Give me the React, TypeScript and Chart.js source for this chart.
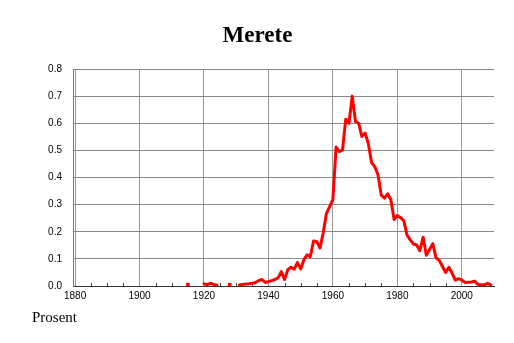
import React, { useEffect, useRef } from "react";
import { Chart, registerables } from "chart.js";

Chart.register(...registerables);

const TITLE = "Merete";
const Y_LABEL = "Prosent";

const years: number[] = [
  1915, 1916, 1917, 1918, 1919,
  1920, 1921, 1922, 1923, 1924, 1925, 1926, 1927, 1928, 1929,
  1930, 1931, 1932, 1933, 1934, 1935, 1936, 1937, 1938, 1939,
  1940, 1941, 1942, 1943, 1944, 1945, 1946, 1947, 1948, 1949,
  1950, 1951, 1952, 1953, 1954, 1955, 1956, 1957, 1958, 1959,
  1960, 1961, 1962, 1963, 1964, 1965, 1966, 1967, 1968, 1969,
  1970, 1971, 1972, 1973, 1974, 1975, 1976, 1977, 1978, 1979,
  1980, 1981, 1982, 1983, 1984, 1985, 1986, 1987, 1988, 1989,
  1990, 1991, 1992, 1993, 1994, 1995, 1996, 1997, 1998, 1999,
  2000, 2001, 2002, 2003, 2004, 2005, 2006, 2007, 2008, 2009,
];

const values: (number | null)[] = [
  0.005, null, null, null, null,
  0.008, 0.005, 0.010, 0.006, 0.003, null, null, null, 0.005, null,
  null, 0.004, 0.006, 0.007, 0.008, 0.010, 0.013, 0.020, 0.024, 0.013,
  0.016, 0.020, 0.024, 0.030, 0.053, 0.024, 0.060, 0.069, 0.062, 0.086,
  0.063, 0.097, 0.115, 0.108, 0.166, 0.164, 0.140, 0.195, 0.268, 0.293,
  0.318, 0.512, 0.495, 0.502, 0.615, 0.600, 0.700, 0.607, 0.600, 0.551,
  0.564, 0.525, 0.455, 0.440, 0.410, 0.335, 0.324, 0.340, 0.318, 0.245,
  0.260, 0.252, 0.241, 0.188, 0.170, 0.155, 0.151, 0.130, 0.180, 0.113,
  0.135, 0.156, 0.104, 0.095, 0.072, 0.050, 0.069, 0.047, 0.022, 0.027,
  0.022, 0.013, 0.014, 0.015, 0.018, 0.006, 0.005, 0.004, 0.010, 0.004,
];

const xTickYears: number[] = [1880, 1900, 1920, 1940, 1960, 1980, 2000];
const minorTickYears: number[] = [
  1885, 1890, 1895, 1905, 1910, 1915, 1925, 1930, 1935, 1945, 1950, 1955,
  1965, 1970, 1975, 1985, 1990, 1995, 2005,
];
const yTicks: number[] = [0, 0.1, 0.2, 0.3, 0.4, 0.5, 0.6, 0.7, 0.8];

const SANS = "'Liberation Sans', Arial, Helvetica, sans-serif";
const SERIF = "'Liberation Serif', 'Times New Roman', serif";

export default function App() {
  const ref = useRef<HTMLCanvasElement | null>(null);

  useEffect(() => {
    const canvas = ref.current;
    if (!canvas) return;

    const textPlugin = {
      id: "texts",
      beforeDatasetsDraw(chart: any) {
        const ctx = chart.ctx;
        const xs = chart.scales.x;
        const bottom = chart.chartArea.bottom;
        ctx.save();
        ctx.strokeStyle = "#444";
        ctx.lineWidth = 1;
        ctx.beginPath();
        for (const v of minorTickYears) {
          const px = Math.round(xs.getPixelForValue(v)) + 0.5;
          ctx.moveTo(px, bottom);
          ctx.lineTo(px, bottom - 3);
        }
        ctx.stroke();
        ctx.restore();
      },
      afterDraw(chart: any) {
        const ctx = chart.ctx;
        ctx.save();
        ctx.fillStyle = "#000";
        ctx.font = `bold 23px ${SERIF}`;
        ctx.textAlign = "center";
        ctx.textBaseline = "alphabetic";
        ctx.fillText(TITLE, 257.5, 41.5);
        ctx.font = `15px ${SERIF}`;
        ctx.textAlign = "left";
        ctx.fillText(Y_LABEL, 32, 322);
        ctx.restore();
      },
    };

    const chart = new Chart(canvas, {
      type: "line",
      data: {
        datasets: [
          {
            data: years.map((yr, i) => ({ x: yr, y: values[i] })) as any,
            borderColor: "#ff0000",
            backgroundColor: "#ff0000",
            borderWidth: 3,
            borderJoinStyle: "round",
            borderCapStyle: "round",
            tension: 0,
            spanGaps: false,
            pointStyle: "rect",
            pointBorderWidth: 0,
            pointBackgroundColor: "#ff0000",
            pointRadius: (ctx: any) => {
              const i = ctx.dataIndex;
              const cur = values[i];
              const prev = i > 0 ? values[i - 1] : null;
              const next = i < values.length - 1 ? values[i + 1] : null;
              return cur != null && prev == null && next == null ? 2.5 : 0;
            },
            pointHoverRadius: 0,
          },
        ],
      },
      options: {
        responsive: false,
        animation: false,
        devicePixelRatio: 1,
        layout: { padding: { left: 0, right: 20, top: 69, bottom: 37 } },
        plugins: {
          legend: { display: false },
          tooltip: { enabled: false },
          title: { display: false },
        },
        scales: {
          x: {
            type: "linear",
            min: 1879.35,
            max: 2010,
            afterBuildTicks: (s: any) => {
              s.ticks = xTickYears.map((v) => ({ value: v }));
            },
            afterFit: (s: any) => {
              s.height = 20;
            },
            ticks: {
              autoSkip: false,
              maxRotation: 0,
              padding: 4,
              color: "#000",
              font: { family: SANS, size: 10 },
              callback: (v: any) => String(v),
            },
            grid: { color: "#999", drawTicks: false },
            border: { color: "#333" },
          },
          y: {
            min: 0,
            max: 0.8,
            afterBuildTicks: (s: any) => {
              s.ticks = yTicks.map((v) => ({ value: v }));
            },
            afterFit: (s: any) => {
              s.width = 73;
            },
            ticks: {
              padding: 11,
              color: "#000",
              font: { family: SANS, size: 10 },
              callback: (v: any) => Number(v).toFixed(1),
            },
            grid: { color: "#888", drawTicks: false },
            border: { color: "#777" },
          },
        },
      },
      plugins: [textPlugin],
    });

    return () => chart.destroy();
  }, []);

  return (
    <div style={{ position: "absolute", left: 0, top: 0, width: 514, height: 343, background: "#fff" }}>
      <canvas ref={ref} width={514} height={343} style={{ display: "block", width: 514, height: 343 }} />
    </div>
  );
}
